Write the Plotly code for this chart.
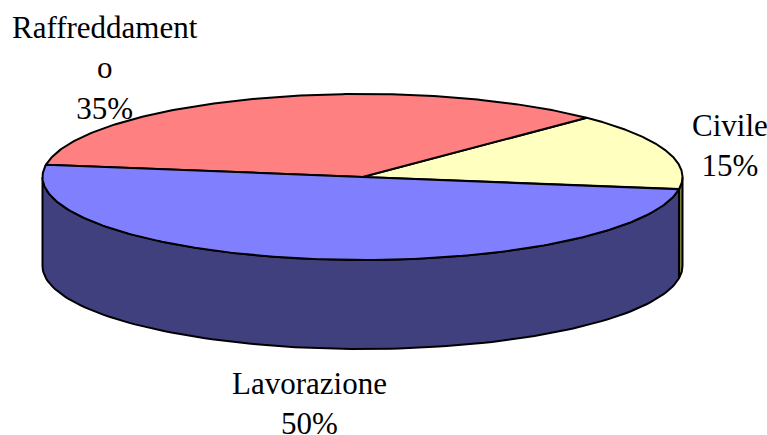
import numpy as np
import plotly.graph_objects as go

labels = ["Civile", "Raffreddamento", "Lavorazione"]
values = [15, 35, 50]
top_colors = ["#FFFFC0", "#FF8080", "#8080FF"]
side_colors = ["#7F7F40", "#803F3F", "#40407F"]
label_text = ["Civile<br>15%", "Raffreddament<br>o<br>35%", "Lavorazione<br>50%"]
label_x = [729.5, 105, 309]
label_y = [145, 68, 403]

CX, CY, RX, RY, DEPTH = 362.5, 177, 320, 83, 89
START = -8.5
LINE = dict(color="black", width=2)


def pt(a, dy=0.0):
    a = np.radians(a)
    return CX + RX * np.cos(a), CY - RY * np.sin(a) + dy


fig = go.Figure()
edges = START + np.cumsum([0] + [v * 3.6 for v in values])

# side walls (front half of the ellipse only)
for i in range(len(values)):
    a0, a1 = edges[i], edges[i + 1]
    spans = []
    if a0 < 0:
        spans.append((a0, min(a1, 0)))
    if a1 > 180:
        spans.append((max(a0, 180), min(a1, 360)))
    for s0, s1 in spans:
        t = np.linspace(s0, s1, 120)
        x1, y1 = pt(t)
        x2, y2 = pt(t[::-1], DEPTH)
        fig.add_trace(go.Scatter(
            x=np.r_[x1, x2, x1[0]], y=np.r_[y1, y2, y1[0]], mode="lines",
            fill="toself", fillcolor=side_colors[i], line=LINE, hoverinfo="skip"))

# top slices
for i in range(len(values)):
    t = np.linspace(edges[i], edges[i + 1], 200)
    x, y = pt(t)
    fig.add_trace(go.Scatter(
        x=np.r_[CX, x, CX], y=np.r_[CY, y, CY], mode="lines",
        fill="toself", fillcolor=top_colors[i], line=LINE,
        name=labels[i], hoverinfo="name"))

for txt, lx, ly in zip(label_text, label_x, label_y):
    fig.add_annotation(x=lx, y=ly, text=txt, showarrow=False, align="center",
                       xref="x", yref="y", yanchor="middle", xanchor="center",
                       font=dict(family="Liberation Serif", size=31, color="black"))

fig.update_layout(
    width=767, height=435, margin=dict(l=0, r=0, t=0, b=0),
    paper_bgcolor="white", plot_bgcolor="white", showlegend=False,
    xaxis=dict(range=[0, 767], visible=False, fixedrange=True),
    yaxis=dict(range=[435, 0], visible=False, fixedrange=True),
)
fig.write_html("out.html", config={"displayModeBar": False},
               post_script="document.body.style.margin='0';document.body.style.overflow='hidden';")
